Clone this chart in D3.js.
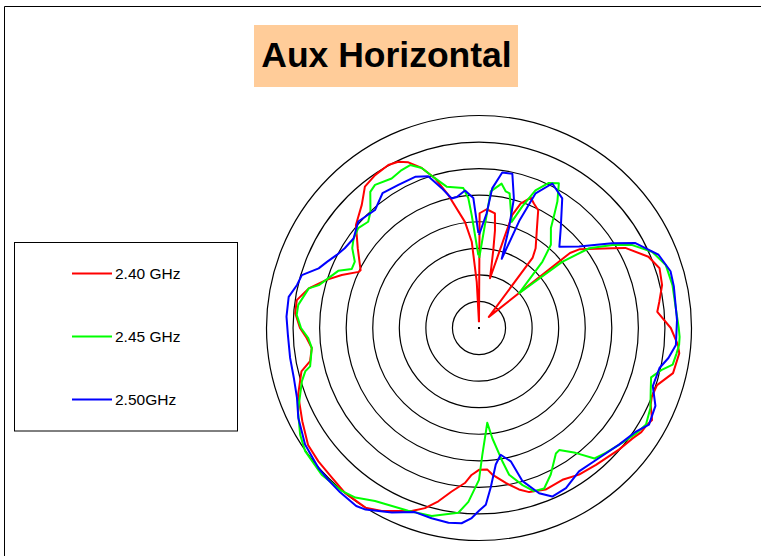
<!DOCTYPE html>
<html>
<head>
<meta charset="utf-8">
<script src="https://cdn.jsdelivr.net/npm/d3@7"></script>
<style>
  html, body { margin: 0; padding: 0; background: #fff; }
  svg { display: block; }
</style>
</head>
<body>
<svg id="chart" width="761" height="556"></svg>
<script>
// ---- Data (angle in degrees clockwise from top, value in dB) ----
const titleText = "Aux Horizontal";
const seriesNames = ["2.40 GHz", "2.45 GHz", "2.50GHz"];
const seriesColors = ["#ff0000", "#00ff00", "#0000ff"];
const ringValues = [-35, -30, -25, -20, -15, -10, -5, 0];

const redAngles = [0,0.3,3.7,7.9,9.3,10.4,12.5,15.6,16.4,18.5,21.7,23.8,26.7,30.3,35.4,37.4,41.5,50.5,52,59.1,61.3,67.2,71.7,76.8,81.7,84.8,90,94.9,97.2,103.1,107.8,111.7,114.1,118,119.9,122.7,125.7,131,139.5,145.7,151.2,157.6,163,166.1,170.2,174.8,176.6,180,182.9,185.2,189.5,193.2,196.7,200.2,208,212.3,219.1,224.5,230.3,235.6,242.2,249.7,256.3,258.9,263.2,266.7,270,274.6,278.7,283.1,287.5,291.1,295,296,303.3,309.9,316.4,321.1,325.8,330.9,334.1,336.9,340.3,343.6,347,352.5,355.2,357.2,359.5];
const redValues = [-38.9,-18.4,-17.6,-18.2,-21.4,-25.1,-30.4,-22.5,-17.8,-15.3,-13.6,-14.4,-15.2,-18.4,-21.6,-23.4,-37.2,-17.8,-15.9,-10.8,-8.6,-5.4,-4.2,-4.6,-5.7,-6.3,-3.9,-2.4,-2.0,-2.5,-4.8,-5.0,-4.6,-3.1,-3.5,-3.7,-4.4,-5.1,-6.1,-6.6,-7.4,-7.1,-7.7,-8.7,-10.4,-12.3,-13.3,-13.3,-12.3,-10.7,-8.8,-6.5,-4.6,-3.3,-1.0,0.0,0.0,-0.5,-0.7,-1.0,-2.4,-3.7,-5.6,-7.6,-8.3,-7.5,-6.3,-5.3,-5.3,-7.1,-9.9,-12.3,-15.0,-15.2,-12.7,-9.8,-8.0,-5.8,-5.2,-4.9,-5.2,-6.1,-8.0,-10.6,-14.3,-19.9,-23.7,-31.3,-38.9];

const greenAngles = [0.2,4.9,8.9,11.1,12.8,17.1,19.6,22.3,25.7,28.9,31.8,33.6,35.7,40.8,43.7,49.1,51.5,54.1,58.1,61.6,66.2,71.4,77.5,83,90,92.5,94.8,97.3,100.7,103,106,110,115,120,124,130,134.6,138.5,142.3,146.7,148.5,153.9,157.9,161.4,164.5,168.4,170.1,173.1,175,178.5,180,183.5,186.4,194.1,201.2,211,216.1,220.1,227,234.7,239.2,245.3,253.3,256,257.2,263.2,266.6,270,274.1,277.3,283.1,285,288.2,292.1,294.9,298.1,302.2,305.5,309.6,313.8,316.9,321.4,324,329.7,333.9,337.1,340.3,343.6,347.1,353.6,355.3,356.3,359.5];
const greenValues = [-26.8,-14.2,-12.5,-13.8,-14.0,-19.1,-15.7,-12.0,-9.7,-8.9,-12.0,-14.4,-16.8,-19.3,-22.7,-30.0,-20.0,-14.4,-10.4,-7.2,-4.4,-2.9,-2.7,-2.8,-2.4,-2.2,-2.2,-2.5,-2.9,-4.8,-6.3,-5.6,-4.4,-3.7,-4.4,-5.7,-6.5,-7.2,-10.3,-12.5,-12.3,-9.3,-7.4,-7.6,-9.3,-11.8,-14.6,-19.1,-22.1,-16.1,-11.4,-7.2,-5.0,-3.5,-3.1,-2.0,-0.5,0.1,0.5,0.1,-0.8,-2.5,-5.2,-6.3,-7.4,-8.3,-7.8,-6.5,-5.6,-5.7,-7.1,-8.8,-10.1,-11.4,-13.6,-13.5,-11.8,-11.0,-10.5,-11.1,-10.1,-7.2,-6.7,-7.4,-6.9,-6.7,-8.0,-10.6,-12.7,-13.5,-15.5,-18.7,-26.3];

const blueAngles = [0,3.8,5.4,8.5,12.2,15.1,16.7,18.2,20.6,22.8,26.9,32.7,39.3,44.7,50.8,57.5,61.5,65.3,67.8,73.5,78,87.7,94.9,99,102.5,108.5,113.8,119.6,123.4,129.8,137.3,145.1,151.5,156.5,160,164.2,166.6,170.3,173,175.8,177.8,180,182.2,185.1,188.9,194,199.2,205.3,212,214.6,220.2,224.8,228.9,236.2,243.5,249,254.9,261,268,273.4,279.3,283.3,286.6,290.4,293.5,297.2,300.7,305.5,311.4,318.6,324.4,330.6,337.1,341.5,345,348.1,350.4,354.2,357.5,359.6];
const blueValues = [-22.5,-18.4,-13.6,-10.4,-10.3,-14.8,-20.4,-26.3,-18.5,-12.5,-9.5,-11.0,-15.7,-18.5,-15.7,-10.3,-6.5,-4.8,-3.5,-2.4,-2.5,-2.7,-2.8,-3.9,-5.2,-5.5,-3.7,-3.2,-4.6,-5.7,-6.7,-7.1,-5.7,-5.4,-6.9,-10.1,-14.2,-15.8,-14.1,-9.9,-6.7,-5.6,-4.2,-3.1,-2.9,-3.1,-3.3,-1.6,0.3,0.7,0.5,0.3,0.1,-0.6,-2.0,-3.3,-3.9,-4.0,-4.0,-3.7,-3.7,-4.8,-5.2,-7.8,-8.8,-9.9,-10.6,-11.0,-9.7,-10.4,-8.8,-9.1,-9.1,-9.9,-12.7,-15.1,-15.0,-14.0,-15.5,-22.1];

// ---- Layout ----
const svg = d3.select("#chart");
const cx = 479, cy = 328, R = 212.5;
const rScale = d3.scaleLinear().domain([-40, 0]).range([0, R]);

// frame
svg.append("path")
  .attr("d", "M4.5,556 V6.5 H761")
  .attr("fill", "none").attr("stroke", "#000").attr("stroke-width", 1);

// title
const titleG = svg.append("g");
titleG.append("rect")
  .attr("x", 254).attr("y", 25).attr("width", 264).attr("height", 62)
  .attr("fill", "#ffcc99");
titleG.append("text")
  .attr("x", 386.5).attr("y", 67)
  .attr("text-anchor", "middle")
  .attr("font-family", "'Liberation Sans', Arial, sans-serif")
  .attr("font-weight", "bold")
  .attr("font-size", 35.5)
  .attr("fill", "#000")
  .text(titleText);

// polar grid
const polar = svg.append("g").attr("transform", `translate(${cx},${cy})`);
polar.selectAll("circle.ring")
  .data(ringValues)
  .enter().append("circle")
  .attr("class", "ring")
  .attr("r", d => rScale(d))
  .attr("fill", "none")
  .attr("stroke", "#000")
  .attr("stroke-width", 1.2);

polar.append("rect")
  .attr("x", -1).attr("y", -1).attr("width", 2).attr("height", 2)
  .attr("fill", "#000");

// curves
const line = d3.lineRadial()
  .angle(d => d[0] * Math.PI / 180)
  .radius(d => rScale(d[1]))
  .curve(d3.curveLinear);

const series = [
  d3.zip(redAngles, redValues),
  d3.zip(greenAngles, greenValues),
  d3.zip(blueAngles, blueValues)
];

polar.selectAll("path.series")
  .data(series)
  .enter().append("path")
  .attr("class", "series")
  .attr("d", d => line(d))
  .attr("fill", "none")
  .attr("stroke", (d, i) => seriesColors[i])
  .attr("stroke-width", 2)
  .attr("stroke-linejoin", "round");

// legend
const legend = svg.append("g");
legend.append("rect")
  .attr("x", 14.5).attr("y", 242.5).attr("width", 223).attr("height", 188.5)
  .attr("fill", "#fff").attr("stroke", "#000").attr("stroke-width", 1);

const legendY = d3.scalePoint().domain(seriesNames).range([273.5, 399.5]);
const items = legend.selectAll("g.item")
  .data(seriesNames)
  .enter().append("g")
  .attr("class", "item")
  .attr("transform", d => `translate(0,${legendY(d)})`);
items.append("line")
  .attr("x1", 72).attr("x2", 112).attr("y1", 0).attr("y2", 0)
  .attr("stroke", (d, i) => seriesColors[i]).attr("stroke-width", 2);
items.append("text")
  .attr("x", 115).attr("y", 0).attr("dy", "0.36em")
  .attr("font-family", "'Liberation Sans', Arial, sans-serif")
  .attr("font-size", 15.5)
  .attr("fill", "#000")
  .text(d => d);
</script>
</body>
</html>
